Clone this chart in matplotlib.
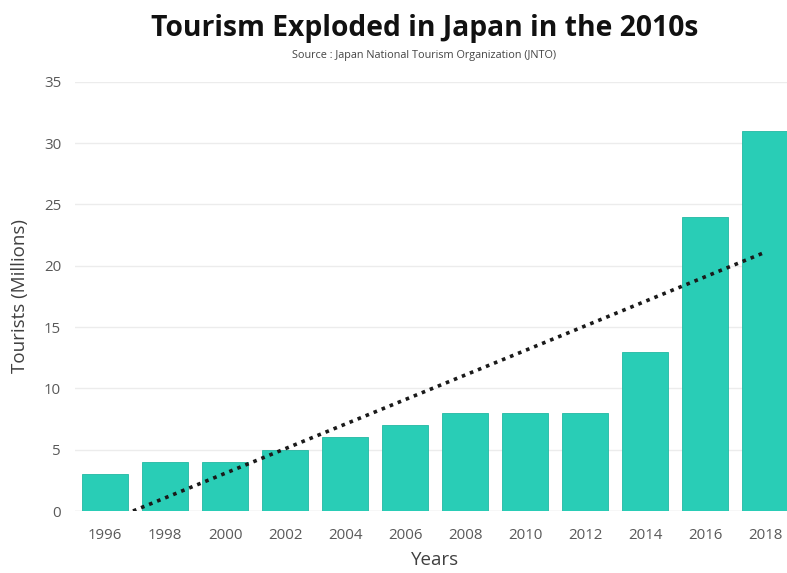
import numpy as np
import matplotlib.pyplot as plt

# Data
years = ['1996', '1998', '2000', '2002', '2004', '2006',
         '2008', '2010', '2012', '2014', '2016', '2018']
tourists = [3, 4, 4, 5, 6, 7, 8, 8, 8, 13, 24, 31]

plt.rcParams['font.family'] = ['Open Sans', 'DejaVu Sans']

fig = plt.figure(figsize=(7.87, 5.73), dpi=100)
ax = fig.add_axes([0.0953, 0.1082, 0.915, 0.749])

x = np.arange(len(years))
ax.bar(x, tourists, width=0.77, color='#29CDB6', edgecolor='#22B8A3',
       linewidth=0.6, zorder=2)

# linear trendline, clipped at zero like the spreadsheet one
slope, intercept = np.polyfit(x, tourists, 1)
x0 = -intercept / slope
tx = np.array([x0, x[-1]])
ax.plot(tx, slope * tx + intercept, color='#1a1a1a', linestyle=(0, (1, 1.4)),
        linewidth=2.6, zorder=3)

ax.set_xlim(-0.5, 11.5)
ax.set_ylim(0, 35)
ax.set_yticks(range(0, 36, 5))
ax.set_xticks(x)
ax.set_xticklabels(years)
ax.grid(axis='y', color='#ececec', linewidth=1, zorder=0)
for s in ax.spines.values():
    s.set_visible(False)
ax.axhline(0, color='#e6e6e6', linewidth=1, zorder=1)
ax.tick_params(length=0, labelsize=10.8, colors='#595959')
ax.tick_params(axis='x', pad=12)
ax.tick_params(axis='y', pad=10)

ax.set_xlabel('Years', fontsize=13.5, color='#404040', labelpad=6)
ax.set_ylabel('Tourists (Millions)', fontsize=13.5, color='#404040', labelpad=11)

fig.text(0.54, 0.951, 'Tourism Exploded in Japan in the 2010s',
         ha='center', va='center', fontsize=20.3, fontweight='bold', color='#111111')
fig.text(0.539, 0.904, 'Source : Japan National Tourism Organization (JNTO)',
         ha='center', va='center', fontsize=7.8, color='#444444')

fig.savefig('out.png', dpi=100)
